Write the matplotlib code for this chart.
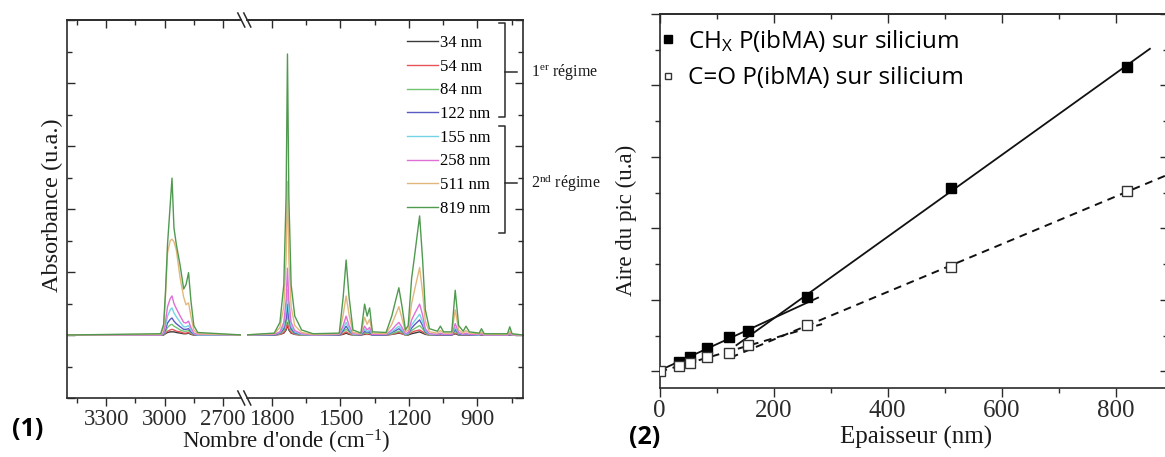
import matplotlib.pyplot as plt
from matplotlib.lines import Line2D
from matplotlib.ticker import MultipleLocator
import numpy as np

W, H = 1165, 457
SERIF = ['Liberation Serif', 'DejaVu Serif']
SANS = ['Open Sans', 'DejaVu Sans']
plt.rcParams['font.family'] = SERIF
plt.rcParams['mathtext.default'] = 'regular'

# ---------- (1) spectres FTIR ----------
labels = ['34 nm', '54 nm', '84 nm', '122 nm', '155 nm', '258 nm', '511 nm', '819 nm']
colors = ['#3a3a3a', '#e8535a', '#72c472', '#5a5ac4', '#72d4e4', '#e070d6', '#e2b77c', '#4f9a4f']

# zone CHx (cm-1)
nu_ch = [3500, 3020, 3005, 2996, 2985, 2971, 2962, 2952, 2940, 2920, 2902, 2890, 2877, 2865, 2850, 2830, 2600]
ch_34 = [0, 0, 0, 0.02, 0.04, 0.05, 0.05, 0.05, 0.04, 0.03, 0.02, 0.02, 0.03, 0.01, 0, 0, 0]
ch_54 = [0, 0, 0.01, 0.03, 0.06, 0.08, 0.09, 0.08, 0.06, 0.05, 0.03, 0.03, 0.04, 0.02, 0, 0, 0]
ch_84 = [0, 0, 0.01, 0.05, 0.12, 0.16, 0.17, 0.14, 0.12, 0.08, 0.06, 0.06, 0.07, 0.03, 0.01, 0, 0]
ch_122 = [0, 0, 0.02, 0.08, 0.19, 0.25, 0.27, 0.22, 0.18, 0.13, 0.09, 0.09, 0.10, 0.05, 0.01, 0, 0]
ch_155 = [0, 0, 0.03, 0.13, 0.30, 0.40, 0.43, 0.35, 0.29, 0.20, 0.13, 0.13, 0.15, 0.08, 0.02, 0, 0]
ch_258 = [0, 0, 0.04, 0.20, 0.45, 0.58, 0.62, 0.50, 0.42, 0.30, 0.20, 0.19, 0.22, 0.12, 0.03, 0.01, 0]
ch_511 = [0, 0.01, 0.12, 0.60, 1.30, 1.50, 1.52, 1.48, 1.35, 0.90, 0.60, 0.48, 0.51, 0.30, 0.08, 0.02, 0]
ch_819 = [0, 0.02, 0.17, 0.65, 1.44, 2.08, 2.49, 1.70, 1.44, 1.10, 0.73, 0.80, 0.99, 0.55, 0.15, 0.04, 0]

# zone C=O / empreinte (cm-1)
nu_fp = [1920, 1790, 1765, 1748, 1738, 1732, 1726, 1716, 1700, 1670, 1620,
         1505, 1488, 1475, 1462, 1445, 1410, 1394, 1383, 1372, 1360,
         1300, 1275, 1258, 1244, 1230, 1215, 1203, 1188, 1176, 1153, 1140, 1128, 1110,
         1075, 1062, 1048, 1012, 997, 982, 962, 950, 935, 892, 882, 870, 768, 758, 748, 700]
fp_34 = [0, 0, 0.01, 0.03, 0.08, 0.16, 0.08, 0.03, 0.01, 0, 0,
         0, 0.01, 0.03, 0.01, 0, 0, 0.01, 0.01, 0.01, 0,
         0, 0.01, 0.02, 0.03, 0.02, 0, 0, 0.02, 0.03, 0.05, 0.03, 0.01, 0,
         0, 0, 0, 0, 0.02, 0, 0, 0, 0, 0, 0, 0, 0, 0, 0, 0]
fp_54 = [0, 0, 0.01, 0.04, 0.10, 0.20, 0.10, 0.04, 0.01, 0, 0,
         0, 0.02, 0.05, 0.02, 0, 0, 0.02, 0.01, 0.02, 0,
         0, 0.01, 0.03, 0.04, 0.02, 0, 0.01, 0.04, 0.06, 0.08, 0.05, 0.02, 0,
         0, 0, 0, 0, 0.03, 0.01, 0, 0, 0, 0, 0, 0, 0, 0, 0, 0]
fp_84 = [0, 0, 0.02, 0.07, 0.18, 0.35, 0.18, 0.07, 0.02, 0, 0,
         0, 0.05, 0.09, 0.05, 0, 0, 0.04, 0.02, 0.04, 0,
         0, 0.02, 0.04, 0.06, 0.04, 0, 0.01, 0.07, 0.10, 0.15, 0.10, 0.03, 0,
         0, 0.01, 0, 0, 0.06, 0.01, 0, 0.01, 0, 0, 0.01, 0, 0, 0.01, 0, 0]
fp_122 = [0, 0, 0.03, 0.10, 0.26, 0.49, 0.26, 0.10, 0.03, 0.01, 0,
          0, 0.07, 0.14, 0.07, 0.01, 0, 0.06, 0.04, 0.05, 0,
          0, 0.04, 0.07, 0.10, 0.06, 0.01, 0.02, 0.11, 0.16, 0.24, 0.15, 0.05, 0.01,
          0, 0.01, 0, 0, 0.09, 0.02, 0, 0.01, 0, 0, 0.01, 0, 0, 0.01, 0, 0]
fp_155 = [0, 0.01, 0.04, 0.14, 0.38, 0.72, 0.38, 0.14, 0.05, 0.01, 0,
          0.01, 0.10, 0.20, 0.10, 0.01, 0.01, 0.09, 0.05, 0.08, 0.01,
          0.01, 0.05, 0.10, 0.14, 0.08, 0.01, 0.03, 0.16, 0.22, 0.33, 0.21, 0.07, 0.01,
          0.01, 0.02, 0.01, 0.01, 0.12, 0.03, 0.01, 0.02, 0.01, 0, 0.02, 0, 0, 0.02, 0, 0]
fp_258 = [0, 0.01, 0.05, 0.20, 0.55, 1.06, 0.55, 0.20, 0.07, 0.02, 0,
          0.01, 0.15, 0.30, 0.15, 0.02, 0.01, 0.14, 0.08, 0.12, 0.01,
          0.01, 0.08, 0.15, 0.20, 0.12, 0.02, 0.04, 0.24, 0.33, 0.49, 0.32, 0.10, 0.02,
          0.01, 0.03, 0.01, 0.01, 0.18, 0.04, 0.01, 0.03, 0.01, 0.01, 0.02, 0, 0, 0.03, 0, 0]
fp_511 = [0, 0.02, 0.12, 0.45, 1.20, 2.44, 1.20, 0.45, 0.15, 0.04, 0.01,
          0.02, 0.32, 0.62, 0.32, 0.04, 0.02, 0.28, 0.17, 0.25, 0.03,
          0.02, 0.17, 0.32, 0.45, 0.26, 0.05, 0.08, 0.50, 0.70, 1.07, 0.68, 0.22, 0.05,
          0.03, 0.07, 0.03, 0.03, 0.40, 0.08, 0.03, 0.07, 0.03, 0.02, 0.05, 0.01, 0.01, 0.06, 0.01, 0]
fp_819 = [0, 0.03, 0.20, 0.80, 2.20, 4.46, 2.20, 0.80, 0.30, 0.08, 0.02,
          0.03, 0.60, 1.19, 0.60, 0.08, 0.03, 0.49, 0.30, 0.43, 0.05,
          0.04, 0.30, 0.55, 0.75, 0.45, 0.08, 0.15, 0.90, 1.23, 1.89, 1.20, 0.40, 0.10,
          0.06, 0.14, 0.05, 0.05, 0.71, 0.15, 0.06, 0.14, 0.05, 0.03, 0.10, 0.02, 0.02, 0.13, 0.02, 0]

ch_series = [ch_34, ch_54, ch_84, ch_122, ch_155, ch_258, ch_511, ch_819]
fp_series = [fp_34, fp_54, fp_84, fp_122, fp_155, fp_258, fp_511, fp_819]

# ---------- (2) aires des pics ----------
ep_chx = [34, 54, 84, 122, 155, 258, 511, 819]
aire_chx = [0.137, 0.207, 0.324, 0.477, 0.57, 1.045, 2.567, 4.257]
ep_co = [0, 34, 54, 84, 122, 155, 258, 511, 819]
aire_co = [0.0, 0.077, 0.115, 0.207, 0.263, 0.37, 0.65, 1.464, 2.52]
# étendue des droites d'ajustement (nm)
span_chx_1, span_chx_2 = (0, 278), (135, 860)
span_co_1, span_co_2 = (0, 285), (125, 890)


def px(x, y):
    # pixel -> fraction de figure
    return x / W, 1 - y / H


def box(x0, y0, x1, y1):
    return [x0 / W, 1 - y1 / H, (x1 - x0) / W, (y1 - y0) / H]


fig = plt.figure(figsize=(W / 100, H / 100), dpi=100)
SP = '#2b2b2b'
TX = '#1a1a1a'

ax1 = fig.add_axes(box(67.3, 20, 241.3, 398))
ax2 = fig.add_axes(box(247.3, 20, 523, 398))

for lab, col, yl, yr in zip(labels, colors, ch_series, fp_series):
    ax1.plot(nu_ch, yl, color=col, lw=1.0)
    ax2.plot(nu_fp, yr, color=col, lw=1.0, label=lab)

ax1.set_xlim(3500, 2606)
ax2.set_xlim(1908, 700)
for ax in (ax1, ax2):
    ax.set_ylim(-1, 5)
    ax.xaxis.set_major_locator(MultipleLocator(300))
    ax.xaxis.set_minor_locator(MultipleLocator(150))
    ax.yaxis.set_major_locator(MultipleLocator(1))
    ax.yaxis.set_minor_locator(MultipleLocator(0.5))
    ax.tick_params(axis='x', which='both', direction='out', labelsize=16.5, pad=2, colors=SP)
    ax.tick_params(axis='x', which='major', length=6, width=1)
    ax.tick_params(axis='x', which='minor', length=3.5, width=1)
    for s in ax.spines.values():
        s.set_color(SP)
        s.set_linewidth(1.2)
    top = ax.secondary_xaxis('top')
    top.xaxis.set_major_locator(MultipleLocator(300))
    top.xaxis.set_minor_locator(MultipleLocator(150))
    top.tick_params(which='both', direction='in', labeltop=False, colors=SP)
    top.tick_params(which='major', length=6, width=1)
    top.tick_params(which='minor', length=3.5, width=1)
    top.spines['top'].set_color(SP)
    top.spines['top'].set_linewidth(1.2)

ax1.spines['right'].set_visible(False)
ax2.spines['left'].set_visible(False)
ax1.tick_params(axis='y', which='both', direction='in', left=True, right=False, labelleft=False)
ax2.tick_params(axis='y', which='both', direction='in', left=False, right=True, labelleft=False)
for ax in (ax1, ax2):
    ax.tick_params(axis='y', which='major', length=6, width=1, colors=SP)
    ax.tick_params(axis='y', which='minor', length=3.5, width=1, colors=SP)

# marques de coupure
for ax, xe, wpx in ((ax1, 1, 174), (ax2, 0, 275.7)):
    dx, dy = 3.5 / wpx, 7 / 378
    for ye in (0, 1):
        ax.plot([xe - dx, xe + dx], [ye + dy, ye - dy], transform=ax.transAxes,
                color=SP, lw=1.1, clip_on=False)

ax2.legend(loc='upper left', bbox_to_anchor=px(407, 35), bbox_transform=fig.transFigure,
           frameon=False, fontsize=12, handlelength=1.85, handletextpad=0.1,
           labelspacing=0.46, borderpad=0, borderaxespad=0)

# accolades des régimes
for y0, y1, ym, txt in ((23, 117, 71.7, '1$^{er}$ régime'), (126, 233, 183.3, '2$^{nd}$ régime')):
    xs, ys = zip(*[px(499, y0), px(505, y0), px(505, y1), px(499, y1)])
    fig.add_artist(Line2D(xs, ys, color=SP, lw=1.1))
    xs, ys = zip(*[px(505, ym), px(516.5, ym)])
    fig.add_artist(Line2D(xs, ys, color=SP, lw=1.1))
    fig.text(*px(531, ym), txt, fontsize=11.5, ha='left', va='center', color=TX)

fig.text(*px(52, 205), 'Absorbance (u.a.)', rotation=90, fontsize=17.5, ha='center', va='center', color=TX)
fig.text(*px(286, 442), "Nombre d'onde (cm$^{-1}$)", fontsize=16.5, ha='center', va='center', color=TX)
fig.text(*px(28, 429), '(1)', fontsize=18, fontweight='bold', family=SANS, ha='center', va='center')

# ---------- panneau (2) ----------
ax3 = fig.add_axes(box(659.5, 14, 1167, 388.3))
ax3.set_xlim(0, 890)
ax3.set_ylim(-0.235, 5)

p_chx_1 = np.polyfit(ep_chx[:5], aire_chx[:5], 1)
p_chx_2 = np.polyfit(ep_chx[5:], aire_chx[5:], 1)
p_co_1 = np.polyfit(ep_co[:6], aire_co[:6], 1)
p_co_2 = np.polyfit(ep_co[6:], aire_co[6:], 1)

for p, span in ((p_chx_1, span_chx_1), (p_chx_2, span_chx_2)):
    xs = np.array(span)
    ax3.plot(xs, np.polyval(p, xs), color='#111111', lw=1.3, zorder=2)
for p, span in ((p_co_1, span_co_1), (p_co_2, span_co_2)):
    xs = np.array(span)
    ax3.plot(xs, np.polyval(p, xs), color='#111111', lw=1.4, ls=(0, (4, 3)), zorder=2)

ax3.plot(ep_chx, aire_chx, ls='none', marker='s', ms=7, mfc='black', mec='black',
         label=r'CH$_\mathregular{X}$ P(ibMA) sur silicium', zorder=3)
ax3.plot(ep_co, aire_co, ls='none', marker='s', ms=6.5, mfc='white', mec='#333333', mew=1,
         label='C=O P(ibMA) sur silicium', zorder=3)

ax3.xaxis.set_major_locator(MultipleLocator(200))
ax3.xaxis.set_minor_locator(MultipleLocator(100))
ax3.yaxis.set_major_locator(MultipleLocator(1))
ax3.yaxis.set_minor_locator(MultipleLocator(0.5))
ax3.tick_params(which='both', direction='out', colors=SP, labelleft=False, labelsize=18, pad=2)
ax3.tick_params(which='major', length=6.5, width=1)
ax3.tick_params(which='minor', length=3.5, width=1)
for s in ax3.spines.values():
    s.set_color(SP)
    s.set_linewidth(1.2)
t3 = ax3.secondary_xaxis('top')
t3.xaxis.set_major_locator(MultipleLocator(200))
t3.xaxis.set_minor_locator(MultipleLocator(100))
t3.tick_params(which='both', direction='in', labeltop=False, colors=SP)
t3.tick_params(which='major', length=6.5, width=1)
t3.tick_params(which='minor', length=3.5, width=1)
t3.spines['top'].set_color(SP)
t3.spines['top'].set_linewidth(1.2)
r3 = ax3.secondary_yaxis('right')
r3.yaxis.set_major_locator(MultipleLocator(1))
r3.yaxis.set_minor_locator(MultipleLocator(0.5))
r3.tick_params(which='both', direction='in', labelright=False, colors=SP)
r3.tick_params(which='major', length=5, width=1)
r3.tick_params(which='minor', length=3, width=1)

ax3.legend(loc='upper left', bbox_to_anchor=px(660.7, 28), bbox_transform=fig.transFigure,
           frameon=False, prop={'family': SANS, 'size': 17.5}, handlelength=0.6,
           handletextpad=0.52, labelspacing=0.5, borderpad=0, borderaxespad=0,
           markerscale=0.75)

fig.text(*px(626, 220), 'Aire du pic (u.a)', rotation=90, fontsize=16.5, ha='center', va='center', color=TX)
fig.text(*px(916, 437), 'Epaisseur (nm)', fontsize=18, ha='center', va='center', color=TX)
fig.text(*px(645, 438), '(2)', fontsize=18, fontweight='bold', family=SANS, ha='center', va='center')

fig.savefig('out.png', dpi=100)
